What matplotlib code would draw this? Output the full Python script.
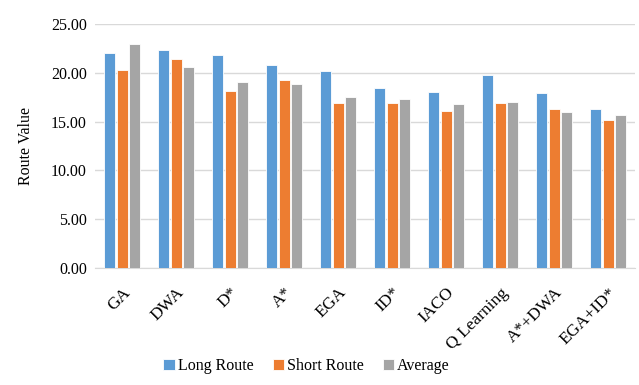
import matplotlib
matplotlib.use("Agg")
import matplotlib.pyplot as plt
import numpy as np

categories = ["GA", "DWA", "D*", "A*", "EGA", "ID*", "IACO", "Q Learning", "A*+DWA", "EGA+ID*"]
long_route = [22.1, 22.35, 21.8, 20.85, 20.2, 18.5, 18.05, 19.8, 17.9, 16.3]
short_route = [20.3, 21.4, 18.2, 19.3, 16.9, 16.9, 16.1, 16.95, 16.3, 15.15]
average = [22.95, 20.6, 19.1, 18.9, 17.55, 17.3, 16.8, 17.05, 16.0, 15.65]
yticks = [0, 5, 10, 15, 20, 25]

plt.rcParams['font.family'] = ['Liberation Serif', 'DejaVu Serif']

fig = plt.figure(figsize=(6.39, 3.85), dpi=100)
ax = fig.add_axes([0.149, 0.304, 0.845, 0.633])

x = np.arange(len(categories))
w = 0.2
colors = ["#5B9BD5", "#ED7D31", "#A5A5A5"]
labels = ["Long Route", "Short Route", "Average"]
for i, (vals, c, lab) in enumerate(zip([long_route, short_route, average], colors, labels)):
    ax.bar(x + (i - 1) * (w + 0.03), vals, width=w, color=c, edgecolor="white", linewidth=0.6, label=lab, zorder=3)

ax.set_xlim(-0.5, len(categories) - 0.5)
ax.set_ylim(0, 25)
ax.set_yticks(yticks)
ax.set_yticklabels([f"{v:.2f}" for v in yticks], fontsize=11.5)
ax.set_xticks(x)
ax.set_xticklabels(categories, rotation=45, ha="right", rotation_mode="anchor", fontsize=12.5)
ax.tick_params(axis="x", length=0, pad=12)
ax.tick_params(axis="y", length=0, pad=6)
ax.grid(axis="y", color="#D9D9D9", linewidth=1, zorder=0)
for s in ["top", "right", "left"]:
    ax.spines[s].set_visible(False)
ax.spines["bottom"].set_color("#D9D9D9")
ax.set_ylabel("Route Value", fontsize=11.5, labelpad=12)

fig.legend(loc="lower center", bbox_to_anchor=(0.48, -0.01), ncol=3, frameon=False, fontsize=11.5,
           handlelength=0.7, handleheight=0.7, handletextpad=0.2, columnspacing=1.2)

fig.savefig("out.png", dpi=100)
